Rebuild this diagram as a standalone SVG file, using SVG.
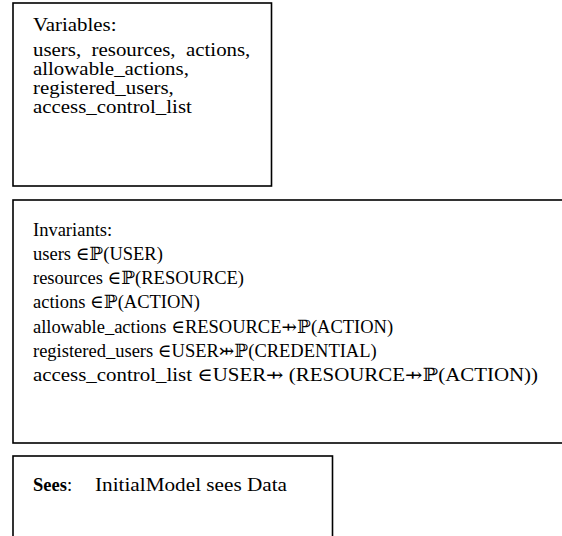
<svg xmlns="http://www.w3.org/2000/svg" width="562" height="536" viewBox="0 0 562 536">
<style>
.box{fill:#fff;stroke:#000;stroke-width:1.6}
.t{font-family:"Liberation Serif","DejaVu Serif","DejaVu Sans",serif;font-size:18px;fill:#000}
.i{font-family:"Liberation Serif","DejaVu Serif","DejaVu Sans",serif;font-size:18.5px;fill:#000}
.b{font-weight:bold}
</style>
<rect width="562" height="536" fill="#fff"/>
<g id="variables">
<rect class="box" x="13" y="3" width="258.5" height="183"/>
<g transform="translate(33 0) scale(1.16 1)">
<text class="t" x="0" y="31">Variables:</text>
<text class="t" x="0" y="56" xml:space="preserve">users,  resources,  actions,</text>
<text class="t" x="0" y="75">allowable_actions,</text>
<text class="t" x="0" y="94">registered_users,</text>
<text class="t" x="0" y="113">access_control_list</text>
</g>
</g>
<g id="invariants">
<rect class="box" x="13" y="200" width="560" height="243"/>
<text class="i" x="33" y="236">Invariants:</text>
<text class="i" x="33" y="260">users ∈ℙ(USER)</text>
<text class="i" x="33" y="284">resources ∈ℙ(RESOURCE)</text>
<text class="i" x="33" y="308">actions ∈ℙ(ACTION)</text>
<text class="i" x="33" y="333">allowable_actions ∈RESOURCE⇸ℙ(ACTION)</text>
<text class="i" x="33" y="357">registered_users ∈USER⤔ℙ(CREDENTIAL)</text>
<text class="i" x="33" y="381" textLength="505" lengthAdjust="spacingAndGlyphs">access_control_list ∈USER⇸ (RESOURCE⇸ℙ(ACTION))</text>
</g>
<g id="sees">
<rect class="box" x="13" y="456" width="319.5" height="100"/>
<text class="i" x="33" y="491"><tspan class="b">Sees</tspan>:</text>
<text class="i" x="95" y="491" textLength="192" lengthAdjust="spacingAndGlyphs">InitialModel sees Data</text>
</g>
<g id="connectors"/>
</svg>
